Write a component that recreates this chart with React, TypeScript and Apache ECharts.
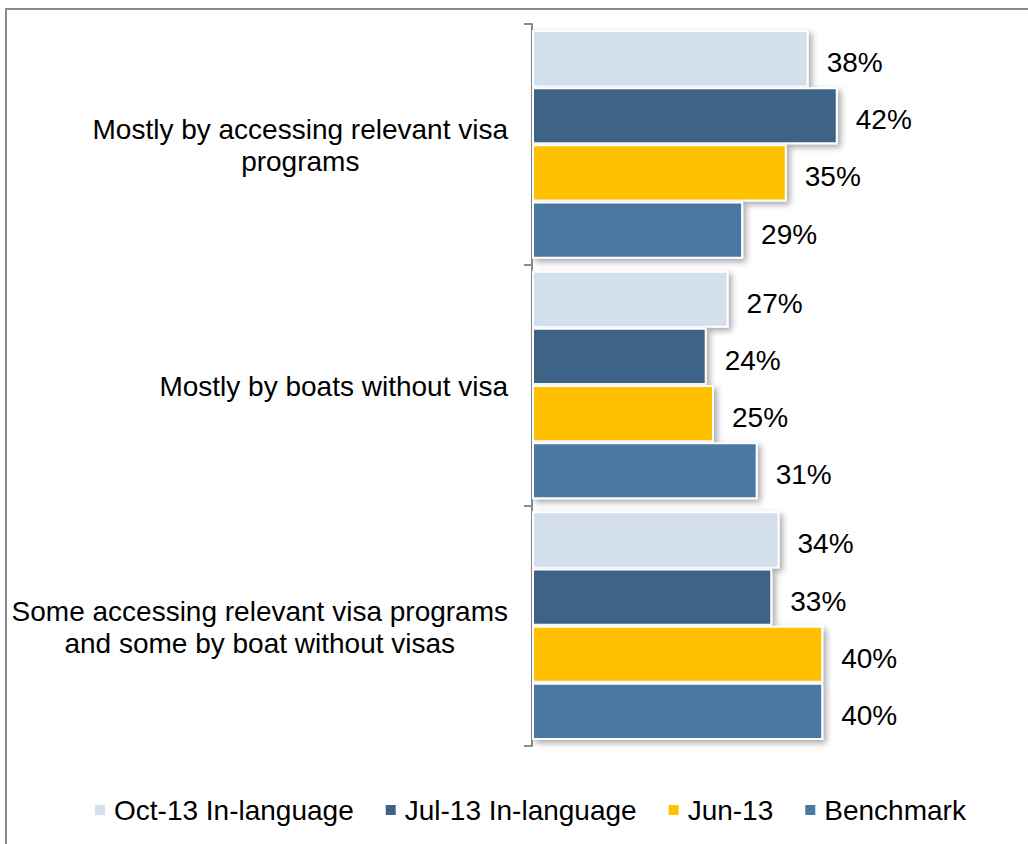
import React, { useEffect, useRef } from "react";
import * as echarts from "echarts";

const categories = [
  "Mostly by accessing relevant visa\nprograms",
  "Mostly by boats without visa",
  "Some accessing relevant visa programs\nand some by boat without visas",
];
const seriesNames = ["Oct-13 In-language", "Jul-13 In-language", "Jun-13", "Benchmark"];
const oct13 = [38, 27, 34];
const jul13 = [42, 24, 33];
const jun13 = [35, 25, 40];
const benchmark = [29, 31, 40];
const colors = ["#D3DFEC", "#3E6387", "#FFC000", "#4A78A2"];

const FONT = "'Liberation Sans', Arial, sans-serif";

export default function App() {
  const ref = useRef<HTMLDivElement>(null);
  useEffect(() => {
    if (!ref.current) return;
    const chart = echarts.init(ref.current, null, { renderer: "svg" });
    const values = [oct13, jul13, jun13, benchmark];
    chart.setOption({
      animation: false,
      backgroundColor: "#ffffff",
      textStyle: { fontFamily: FONT },
      graphic: [
        {
          type: "rect",
          shape: { x: 6, y: 9, width: 1100, height: 900 },
          style: { fill: "none", stroke: "#8c8c8c", lineWidth: 2 },
          silent: true,
          z: 0,
        },
      ],
      grid: { left: 532, top: 24, width: 364, height: 722, containLabel: false },
      xAxis: { type: "value", min: 0, max: 50, show: false },
      yAxis: {
        type: "category",
        inverse: true,
        data: categories,
        axisLine: { lineStyle: { color: "#8c8c8c", width: 2 } },
        axisTick: { show: true, length: 8, lineStyle: { color: "#8c8c8c", width: 2 } },
        axisLabel: {
          margin: 24,
          align: "right",
          formatter: (v: string) => v.split("\n").map((l) => `{c|${l}}`).join("\n"),
          rich: {
            c: { align: "center", fontSize: 28, lineHeight: 32, padding: [3, 0, 0, 0], color: "#000", fontFamily: FONT },
          },
        },
      },
      legend: {
        left: 88,
        top: 790,
        icon: "rect",
        itemWidth: 12,
        itemHeight: 12,
        itemGap: 30,
        data: seriesNames,
        textStyle: { fontSize: 28, color: "#000", fontFamily: FONT, lineHeight: 30, padding: [0, 0, 0, 3] },
      },
      series: seriesNames.map((name, i) => ({
        name,
        type: "bar",
        data: values[i],
        barGap: "0%",
        barCategoryGap: "5%",
        itemStyle: {
          color: colors[i],
          borderColor: "#ffffff",
          borderWidth: 2,
          shadowBlur: 6,
          shadowColor: "rgba(0,0,0,0.35)",
          shadowOffsetX: 3,
          shadowOffsetY: 3,
        },
        label: {
          show: true,
          position: "right",
          distance: 18,
          offset: [0, 4],
          formatter: "{c}%",
          fontSize: 28,
          color: "#000",
          fontFamily: FONT,
        },
      })),
    });
    return () => chart.dispose();
  }, []);
  return (
    <div
      ref={ref}
      style={{ position: "fixed", left: 0, top: 0, width: 1028, height: 844 }}
    />
  );
}
